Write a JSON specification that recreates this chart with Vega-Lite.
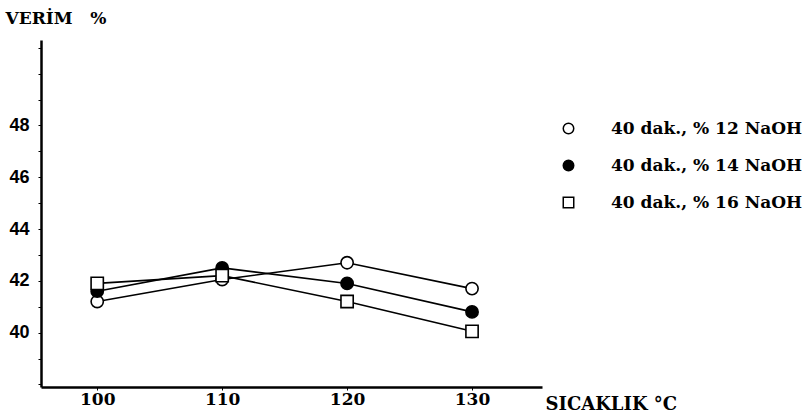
{
  "$schema": "https://vega.github.io/schema/vega-lite/v6.json",
  "autosize": "none",
  "width": 501,
  "height": 347,
  "padding": {"left": 41, "top": 40, "right": 268, "bottom": 31},
  "background": "white",
  "config": {
    "view": {"stroke": null},
    "font": "DejaVu Serif"
  },
  "data": {
    "values": [
      {"sicaklik": 100, "verim": 41.2, "seri": "40 dak., % 12 NaOH"},
      {"sicaklik": 110, "verim": 42.05, "seri": "40 dak., % 12 NaOH"},
      {"sicaklik": 120, "verim": 42.7, "seri": "40 dak., % 12 NaOH"},
      {"sicaklik": 130, "verim": 41.7, "seri": "40 dak., % 12 NaOH"},
      {"sicaklik": 100, "verim": 41.6, "seri": "40 dak., % 14 NaOH"},
      {"sicaklik": 110, "verim": 42.5, "seri": "40 dak., % 14 NaOH"},
      {"sicaklik": 120, "verim": 41.9, "seri": "40 dak., % 14 NaOH"},
      {"sicaklik": 130, "verim": 40.8, "seri": "40 dak., % 14 NaOH"},
      {"sicaklik": 100, "verim": 41.9, "seri": "40 dak., % 16 NaOH"},
      {"sicaklik": 110, "verim": 42.2, "seri": "40 dak., % 16 NaOH"},
      {"sicaklik": 120, "verim": 41.2, "seri": "40 dak., % 16 NaOH"},
      {"sicaklik": 130, "verim": 40.05, "seri": "40 dak., % 16 NaOH"}
    ]
  },
  "encoding": {
    "x": {
      "field": "sicaklik",
      "type": "quantitative",
      "scale": {"domain": [95.5, 135.6], "nice": false, "zero": false},
      "axis": {
        "values": [100, 110, 120, 130],
        "title": "SICAKLIK °C",
        "titleFont": "DejaVu Serif",
        "titleFontSize": 18,
        "titleFontWeight": "bold",
        "titleColor": "black",
        "titleAnchor": "start",
        "titleAlign": "left",
        "titleBaseline": "alphabetic",
        "titleX": 504,
        "titleY": 22,
        "labelFont": "DejaVu Serif",
        "labelFontSize": 17,
        "labelFontWeight": "bold",
        "labelColor": "black",
        "labelPadding": 1,
        "labelDx": 4,
        "domainColor": "black",
        "domainWidth": 2.5,
        "tickColor": "black",
        "tickSize": 3,
        "grid": false
      }
    },
    "y": {
      "field": "verim",
      "type": "quantitative",
      "scale": {"domain": [37.9, 51.3], "nice": false, "zero": false},
      "axis": {
        "values": [38, 39, 40, 41, 42, 43, 44, 45, 46, 47, 48, 49, 50, 51],
        "labelExpr": "datum.value % 2 == 0 && datum.value >= 40 && datum.value <= 48 ? datum.label : ''",
        "title": "VERİM\u00a0\u00a0\u00a0%",
        "titleFont": "DejaVu Serif",
        "titleFontSize": 17,
        "titleFontWeight": "bold",
        "titleColor": "black",
        "titleAngle": 0,
        "titleAlign": "left",
        "titleBaseline": "alphabetic",
        "titleX": -36,
        "titleY": -17,
        "labelFont": "Liberation Sans",
        "labelFontSize": 18,
        "labelFontWeight": "bold",
        "labelColor": "black",
        "labelPadding": 9,
        "domainColor": "black",
        "domainWidth": 2.5,
        "tickColor": "black",
        "tickSize": 3,
        "grid": false
      }
    }
  },
  "layer": [
    {
      "mark": {"type": "line", "color": "black", "strokeWidth": 1.6},
      "encoding": {"detail": {"field": "seri", "type": "nominal"}}
    },
    {
      "mark": {"type": "point", "filled": true, "stroke": "black", "strokeWidth": 1.6, "size": 150, "opacity": 1},
      "encoding": {
        "shape": {
          "field": "seri",
          "type": "nominal",
          "scale": {"range": ["circle", "circle", "square"]},
          "legend": {
            "title": null,
            "orient": "none",
            "legendX": 519,
            "legendY": 80,
            "symbolSize": 110,
            "labelFont": "DejaVu Serif",
            "labelFontSize": 17,
            "labelFontWeight": "bold",
            "labelColor": "black",
            "labelOffset": 34,
            "rowPadding": 19,
            "labelLimit": 300,
            "encode": {
              "symbols": {
                "update": {
                  "stroke": {"value": "black"},
                  "strokeWidth": {"value": 1.6}
                }
              }
            }
          }
        },
        "fill": {
          "field": "seri",
          "type": "nominal",
          "scale": {"range": ["white", "black", "white"]},
          "legend": {
            "title": null,
            "orient": "none",
            "legendX": 519,
            "legendY": 80,
            "symbolSize": 110,
            "labelFont": "DejaVu Serif",
            "labelFontSize": 17,
            "labelFontWeight": "bold",
            "labelColor": "black",
            "labelOffset": 34,
            "rowPadding": 19,
            "labelLimit": 300,
            "encode": {
              "symbols": {
                "update": {
                  "stroke": {"value": "black"},
                  "strokeWidth": {"value": 1.6}
                }
              }
            }
          }
        }
      }
    }
  ]
}
